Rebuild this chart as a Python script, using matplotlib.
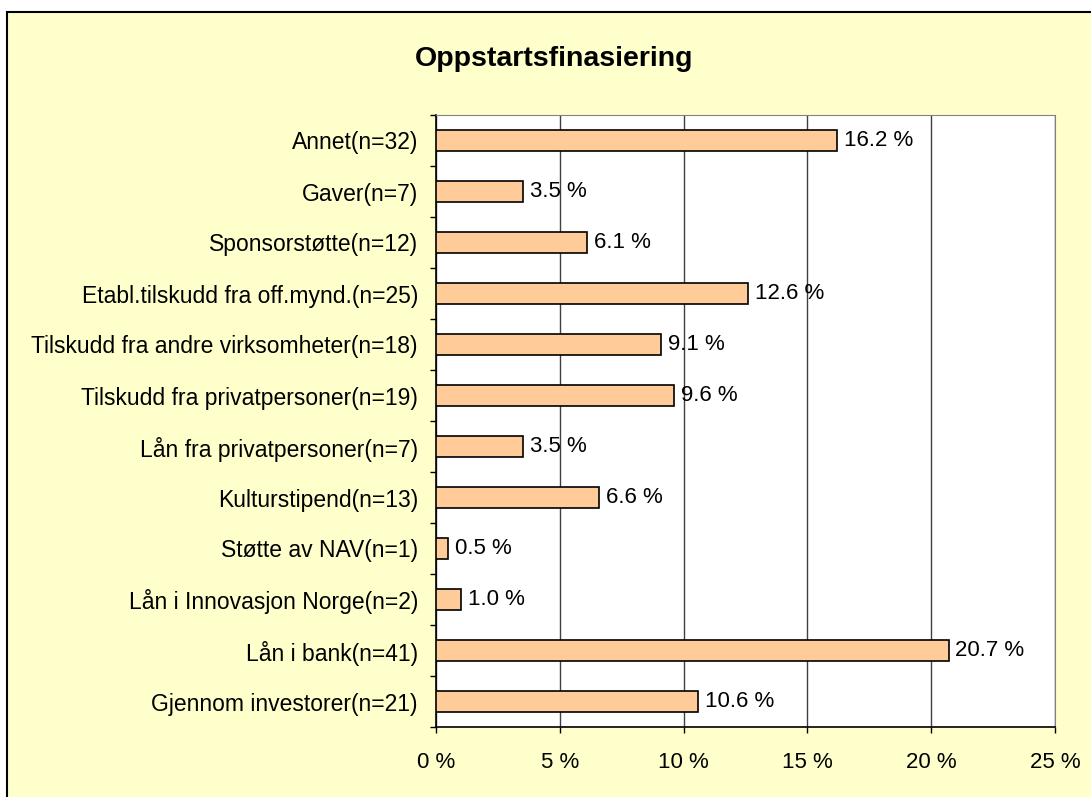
import matplotlib.pyplot as plt
import matplotlib.patches as patches
import numpy as np

plt.rcParams['font.family'] = ['Liberation Sans', 'DejaVu Sans']

categories = ['Annet(n=32)', 'Gaver(n=7)', 'Sponsorstøtte(n=12)',
              'Etabl.tilskudd fra off.mynd.(n=25)',
              'Tilskudd fra andre virksomheter(n=18)',
              'Tilskudd fra privatpersoner(n=19)',
              'Lån fra privatpersoner(n=7)', 'Kulturstipend(n=13)',
              'Støtte av NAV(n=1)', 'Lån i Innovasjon Norge(n=2)',
              'Lån i bank(n=41)', 'Gjennom investorer(n=21)']
values = [16.2, 3.5, 6.1, 12.6, 9.1, 9.6, 3.5, 6.6, 0.5, 1.0, 20.7, 10.6]
xticks = [0, 5, 10, 15, 20, 25]

fig = plt.figure(figsize=(10.91, 7.97), dpi=100)
fig.patch.set_facecolor('white')

# yellow chart area with black frame
frame = patches.Rectangle((7 / 1091, -0.05), 1.2, 1 - 12 / 797 + 0.05,
                          transform=fig.transFigure, facecolor='#FFFFCC',
                          edgecolor='black', linewidth=1.5, zorder=-5)
fig.patches.append(frame)

ax = fig.add_axes([436 / 1091, 1 - 727 / 797, 619 / 1091, 612 / 797])
ax.set_zorder(1)
ax.set_facecolor('white')

y = np.arange(len(categories))
ax.barh(y, values, height=0.4, color='#FFCC99', edgecolor='black',
        linewidth=1.2, zorder=3)

for yi, v in zip(y, values):
    ax.text(v + 0.28, yi, f'{v:.1f} %', va='center', ha='left',
            fontsize=16, zorder=4)

ax.set_xlim(0, 25)
ax.set_ylim(len(categories) - 0.5, -0.5)
ax.set_xticks(xticks)
ax.set_xticklabels([f'{t} %' for t in xticks], fontsize=16)
ax.tick_params(axis='x', length=4, width=1, pad=14)

ax.set_yticks(y)
ax.set_yticklabels(categories, fontsize=16.5)
ax.set_yticks(np.arange(-0.5, len(categories)), minor=True)
ax.tick_params(axis='y', which='major', length=0, pad=13)
ax.tick_params(axis='y', which='minor', length=4, width=1)

ax.grid(axis='x', color='#404040', linewidth=1, zorder=1)
ax.set_axisbelow(True)
for side in ['top', 'right']:
    ax.spines[side].set_color('#808080')
for side in ['left', 'bottom']:
    ax.spines[side].set_color('black')
    ax.spines[side].set_linewidth(1.2)

fig.text(554 / 1091, 1 - 59 / 797, 'Oppstartsfinasiering', ha='center',
         va='center', fontsize=20.5, fontweight='bold')

fig.savefig('out.png', dpi=100)
